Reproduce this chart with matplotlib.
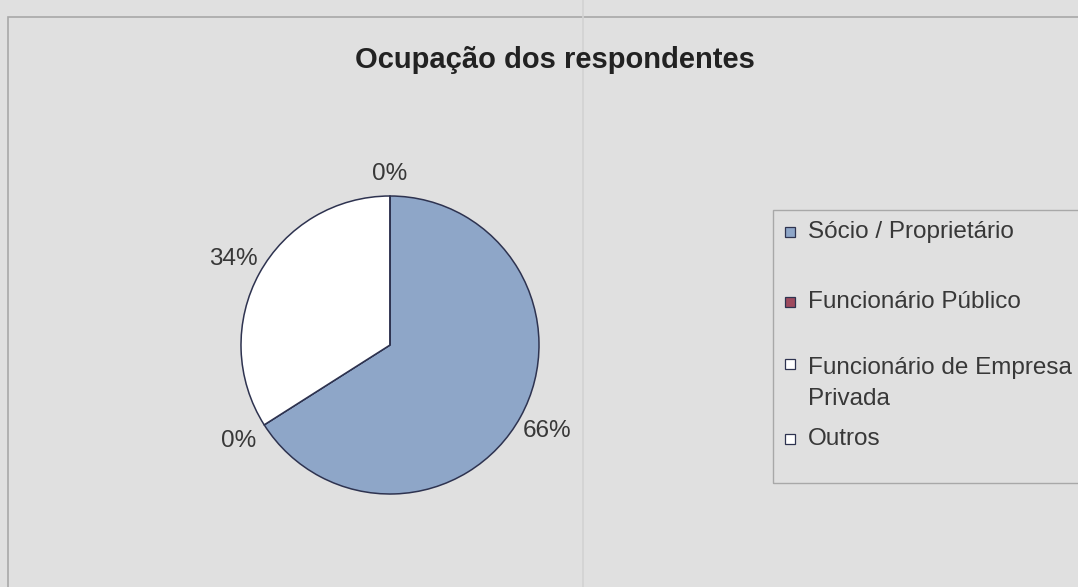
import matplotlib.pyplot as plt
from matplotlib.patches import Rectangle
from matplotlib.lines import Line2D

# Ocupação dos respondentes (percentuais)
categorias = ["Sócio / Proprietário", "Funcionário Público",
              "Funcionário de Empresa\nPrivada", "Outros"]
percentuais = [66, 0, 34, 0]
cores = ["#8ea6c8", "#9e4a5e", "#ffffff", "#ffffff"]

plt.rcParams['font.family'] = ['Liberation Sans', 'DejaVu Sans']

W, H = 1078, 587
fig = plt.figure(figsize=(W / 100, H / 100), dpi=100)
fig.patch.set_facecolor("#e0e0e0")

# moldura da área do gráfico e linha de grade da planilha ao fundo
fig.add_artist(Line2D([583 / W, 583 / W], [0, 1], color="#d2d2d2", lw=1.2))
fig.add_artist(Rectangle((8 / W, -0.1), 1.2, 1 - 17 / H + 0.1, transform=fig.transFigure,
                         fill=False, edgecolor="#a8a8a8", lw=1.2))

fig.text(555 / W, 1 - 68 / H, "Ocupação dos respondentes", ha="center", va="baseline",
         fontsize=21, fontweight="bold", color="#222222")

# pizza: centro em (390, 345) px, raio ~149 px
ax = fig.add_axes([(390 - 1.25 * 149) / W, 1 - (345 + 1.25 * 149) / H,
                   2.5 * 149 / W, 2.5 * 149 / H])
wedges, textos, pcts = ax.pie(percentuais, colors=cores, startangle=90, counterclock=False,
                              autopct="%1.0f%%", pctdistance=1.2,
                              wedgeprops=dict(edgecolor="#2e3350", linewidth=1.1),
                              textprops=dict(fontsize=17.5, color="#383838"))
# o rótulo do topo fica um pouco mais perto da borda
pcts[3].set_y(pcts[3].get_position()[1] - 0.05)
ax.set_xlim(-1.25, 1.25)
ax.set_ylim(-1.25, 1.25)
ax.set_aspect("equal")

# legenda desenhada à mão (marcador alinhado com a primeira linha do texto)
fig.add_artist(Rectangle((773 / W, 1 - 483 / H), 1.0, (483 - 210) / H,
                         transform=fig.transFigure, fill=False, edgecolor="#a8a8a8", lw=1.0))
linhas_base = [238, 308, 370, 445]
passo = 35  # distância entre linhas de um mesmo rótulo, px
for nome, cor, y in zip(categorias, cores, linhas_base):
    fig.add_artist(Rectangle((785 / W, 1 - (y - 1) / H), 10 / W, 10 / H,
                             transform=fig.transFigure, facecolor=cor,
                             edgecolor="#2e3350", lw=0.9))
    n = nome.count("\n")
    # va="baseline" alinha a última linha do texto
    fig.text(808 / W, 1 - (y + n * passo) / H, nome, ha="left", va="baseline",
             fontsize=17.5, color="#383838", linespacing=1.55)

plt.savefig("out.png", dpi=100, facecolor=fig.get_facecolor())
